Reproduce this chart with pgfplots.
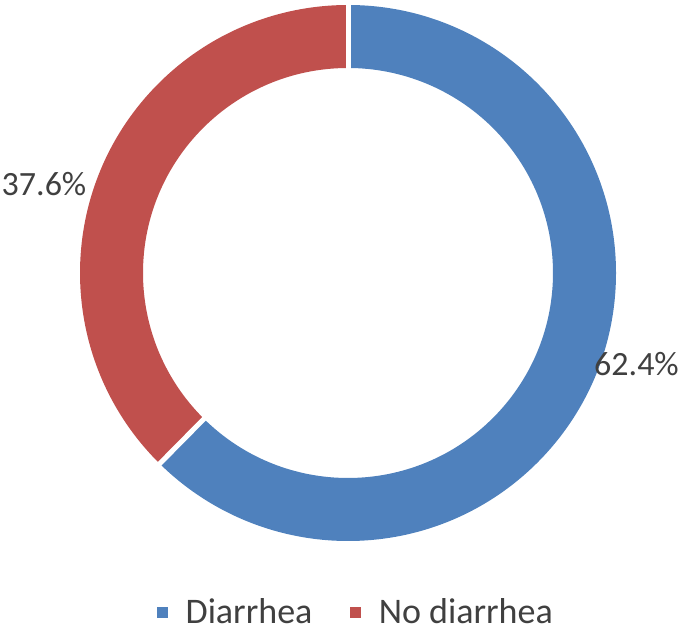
\documentclass[border=0pt]{standalone}
\usepackage{fontspec}
\setmainfont{Carlito}
\usepackage{pgfplots}
\usepackage{pgfplotstable}
\pgfplotsset{compat=1.18}

\definecolor{clrDia}{HTML}{4F81BD}
\definecolor{clrNoDia}{HTML}{C0504D}
\definecolor{txtgray}{HTML}{404040}

% share of children (%)
\pgfplotstableread[col sep=comma]{
label,value
Diarrhea,62.4
No diarrhea,37.6
}\donutdata

\pgfplotstablegetelem{0}{value}\of\donutdata \let\valA\pgfplotsretval
\pgfplotstablegetelem{1}{value}\of\donutdata \let\valB\pgfplotsretval
% slices start at 12 o'clock and run clockwise
\pgfmathsetmacro\angA{90-3.6*\valA}
\pgfmathsetmacro\angB{\angA-3.6*\valB}

\begin{document}
\begin{tikzpicture}
\begin{axis}[
    name=ax,
    x=1pt, y=1pt,
    xmin=0, xmax=685, ymin=0, ymax=626,
    hide axis,
    clip=false,
    legend columns=-1,
    legend style={
        draw=none, fill=none,
        at={(axis cs:356,14)}, anchor=center,
        font=\fontsize{36}{36}\selectfont, text=txtgray,
        nodes={inner sep=2pt},
        /tikz/every odd column/.append style={column sep=16pt},
        /tikz/every even column/.append style={column sep=36pt},
    },
    legend image code/.code={\fill[#1] (0pt,-5pt) rectangle (10pt,5pt);},
]
    % Diarrhea
    \fill[clrDia] (axis cs:348,621) arc[start angle=90, end angle=\angA, radius=268pt]
        -- ++(\angA+180:63pt) arc[start angle=\angA, end angle=90, radius=205pt] -- cycle;
    % No diarrhea
    \fill[clrNoDia] (axis cs:348,353) ++(\angA:268pt) arc[start angle=\angA, end angle=\angB, radius=268pt]
        -- ++(\angB+180:63pt) arc[start angle=\angB, end angle=\angA, radius=205pt] -- cycle;

    % white separators between slices
    \draw[white, line width=5pt] (axis cs:348,353) ++(90:195pt) -- ++(90:85pt);
    \draw[white, line width=5pt] (axis cs:348,353) ++(\angA:195pt) -- ++(\angA:85pt);

    \node[text=txtgray, font=\fontsize{34}{34}\selectfont] at (axis cs:636.5,261.5) {\valA\%};
    \node[text=txtgray, font=\fontsize{34}{34}\selectfont] at (axis cs:44,442) {\valB\%};

    \addlegendimage{clrDia}
    \addlegendentry{Diarrhea}
    \addlegendimage{clrNoDia}
    \addlegendentry{No diarrhea}
\end{axis}
\pgfresetboundingbox
\path[use as bounding box] (ax.south west) rectangle (ax.north east);
\end{tikzpicture}
\end{document}
